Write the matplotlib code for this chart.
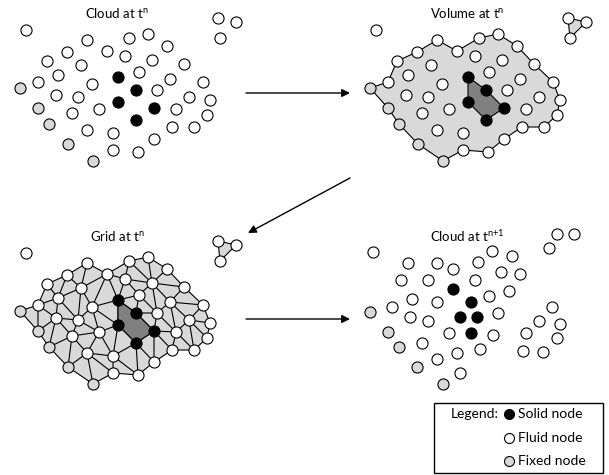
import matplotlib
matplotlib.use("Agg")
import matplotlib.pyplot as plt
import matplotlib.tri as mtri
from matplotlib.path import Path
from matplotlib.patches import Polygon, Rectangle
import numpy as np

# node positions (pixels, local to each panel)
fluid_n = [(26, 30), (87, 40), (129, 38), (148, 34), (167, 46), (67, 52), (107, 51),
           (125, 56), (47, 61), (81, 65), (152, 60), (184, 64), (58, 75), (139, 72),
           (38, 82), (92, 84), (170, 79), (203, 82), (56, 95), (78, 97), (157, 90),
           (189, 97), (210, 100), (72, 113), (99, 109), (176, 109), (207, 115),
           (87, 130), (113, 133), (172, 127), (194, 127), (154, 139), (113, 150),
           (138, 152)]
island = [(218, 18), (236, 22), (220, 38)]
solid_n = [(118, 77), (136, 90), (154, 108), (136, 120), (118, 102)]
fixed_n = [(20, 88), (38, 108), (49, 124), (68, 144), (93, 161)]
hull = [(20, 88), (38, 82), (47, 61), (67, 52), (87, 40), (107, 51), (129, 38),
        (148, 34), (167, 46), (184, 64), (203, 82), (210, 100), (207, 115),
        (194, 127), (172, 127), (154, 139), (138, 152), (113, 150), (93, 161),
        (68, 144), (49, 124), (38, 108)]

fluid_n1 = [(23, 29), (207, 11), (224, 11), (199, 25), (142, 28), (162, 33), (58, 40),
            (87, 40), (103, 46), (128, 39), (151, 49), (170, 51), (51, 57), (78, 57),
            (125, 57), (159, 68), (139, 73), (62, 76), (87, 79), (42, 84), (202, 84),
            (148, 90), (60, 94), (78, 98), (189, 98), (210, 101), (99, 110), (143, 112),
            (176, 110), (207, 115), (72, 120), (130, 126), (173, 128), (193, 129),
            (107, 130), (87, 136), (110, 150)]
solid_n1 = [(103, 66), (121, 79), (110, 94), (127, 94), (121, 110)]
fixed_n1 = [(20, 89), (38, 109), (49, 124), (67, 144), (93, 161)]

titles = [r"Cloud at t$^{\mathrm{n}}$", r"Volume at t$^{\mathrm{n}}$",
          r"Grid at t$^{\mathrm{n}}$", r"Cloud at t$^{\mathrm{n{+}1}}$"]
offsets = [(0, 0), (350, 0), (0, 223), (350, 223)]
legend_labels = ["Solid node", "Fluid node", "Fixed node"]

LIGHT = "#d9d9d9"
DARK = "#808080"

plt.rcParams["font.family"] = ["Lato", "DejaVu Sans"]
plt.rcParams["mathtext.fontset"] = "custom"
plt.rcParams["mathtext.rm"] = "Lato"
plt.rcParams["font.size"] = 9.5

fig = plt.figure(figsize=(6.09, 4.75), dpi=100)
ax = fig.add_axes([0, 0, 1, 1])
ax.set_xlim(0, 609)
ax.set_ylim(475, 0)
ax.axis("off")

NODE_S = 64


def shift(pts, off):
    a = np.array(pts, dtype=float)
    return a + np.array(off)


def nodes(pts, off, color):
    a = shift(pts, off)
    ax.scatter(a[:, 0], a[:, 1], s=NODE_S, c=color, edgecolors="black",
               linewidths=0.8, zorder=5)


# titles
for t, off in zip(titles, offsets):
    ax.text(117 + off[0], 13 + off[1], t, ha="center", va="center", fontsize=9.5)

# panel 1: cloud
off = offsets[0]
nodes(fluid_n + island, off, "white")
nodes(solid_n, off, "black")
nodes(fixed_n, off, LIGHT)

# panel 2: volume
off = offsets[1]
ax.add_patch(Polygon(shift(hull, off), closed=True, fc=LIGHT, ec="black", lw=0.8, zorder=2))
ax.add_patch(Polygon(shift(island, off), closed=True, fc=LIGHT, ec="black", lw=0.8, zorder=2))
ax.add_patch(Polygon(shift(solid_n, off), closed=True, fc=DARK, ec="black", lw=0.8, zorder=3))
nodes(fluid_n + island, off, "white")
nodes(solid_n, off, "black")
nodes(fixed_n, off, LIGHT)

# panel 3: grid
off = offsets[2]
mesh_pts = shift(fluid_n[1:] + solid_n + fixed_n, off)
tri = mtri.Triangulation(mesh_pts[:, 0], mesh_pts[:, 1])
hull_path = Path(shift(hull, off))
cent = np.column_stack([mesh_pts[tri.triangles, 0].mean(axis=1),
                        mesh_pts[tri.triangles, 1].mean(axis=1)])
tri.set_mask(~hull_path.contains_points(cent))
ax.add_patch(Polygon(shift(hull, off), closed=True, fc=LIGHT, ec="none", zorder=1))
ax.triplot(tri, color="black", lw=0.8, zorder=2)
ax.add_patch(Polygon(shift(solid_n, off), closed=True, fc=DARK, ec="black", lw=0.8, zorder=3))
ax.add_patch(Polygon(shift(island, off), closed=True, fc=LIGHT, ec="black", lw=0.8, zorder=2))
nodes(fluid_n + island, off, "white")
nodes(solid_n, off, "black")
nodes(fixed_n, off, LIGHT)

# panel 4: cloud at next step
off = offsets[3]
nodes(fluid_n1, off, "white")
nodes(solid_n1, off, "black")
nodes(fixed_n1, off, LIGHT)

# arrows between panels
arrow = dict(arrowstyle="-|>", color="black", lw=1, mutation_scale=12,
             shrinkA=0, shrinkB=0)
ax.annotate("", xy=(350, 93), xytext=(246, 93), arrowprops=arrow)
ax.annotate("", xy=(248, 233), xytext=(350, 178), arrowprops=arrow)
ax.annotate("", xy=(350, 319), xytext=(246, 319), arrowprops=arrow)

# legend box
ax.add_patch(Rectangle((434, 403), 169, 70, fc="white", ec="black", lw=1, zorder=4))
ax.text(499, 414, "Legend:", ha="right", va="center", fontsize=10, zorder=6)
for i, (lab, col) in enumerate(zip(legend_labels, ["black", "white", LIGHT])):
    y = 414 + 23.5 * i
    ax.scatter([509], [y], s=52, c=col, edgecolors="black", linewidths=0.8, zorder=6)
    ax.text(518, y, lab, ha="left", va="center", fontsize=10, zorder=6)

fig.savefig("out.png", dpi=100)
